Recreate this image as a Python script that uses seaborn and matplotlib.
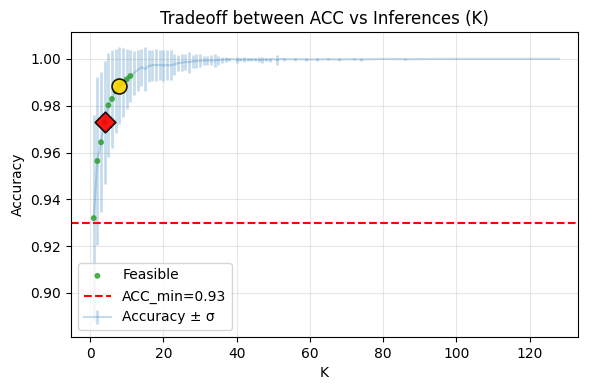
import matplotlib
matplotlib.use("Agg")
import matplotlib.pyplot as plt
import seaborn as sns
import pandas as pd

# K values (inferences)
k_values = list(range(1, 53)) + [53, 56, 59, 62, 65, 68, 72, 74, 80, 86, 96, 112, 128]

acc_mean = [
    0.9320, 0.9564, 0.9644, 0.9729, 0.9802, 0.9829, 0.9862, 0.9886, 0.9900, 0.9913,
    0.9927, 0.9940, 0.9952, 0.9964, 0.9957, 0.9970, 0.9973, 0.9974, 0.9974, 0.9972,
    0.9974, 0.9973, 0.9976, 0.9982, 0.9984, 0.9987, 0.9986, 0.9990, 0.9991, 0.9992,
    0.9993, 0.9993, 0.9994, 0.9993, 0.9995, 0.9996, 0.9997, 0.9998, 1.0000, 0.9996,
    0.9998, 0.9997, 0.9998, 0.9998, 0.9998, 0.9997, 0.9996, 0.9998, 0.9997, 1.0000,
    0.9995, 1.0000,
    0.9999, 0.9999, 0.9998, 0.9998, 0.9999, 0.9998, 0.9999, 0.9998, 1.0000, 0.9999,
    1.0000, 1.0000, 1.0000,
]

acc_std = [
    0.0440, 0.0360, 0.0300, 0.0263, 0.0222, 0.0210, 0.0180, 0.0165, 0.0148, 0.0128,
    0.0112, 0.0095, 0.0088, 0.0080, 0.0094, 0.0068, 0.0066, 0.0068, 0.0063, 0.0066,
    0.0064, 0.0063, 0.0046, 0.0034, 0.0037, 0.0033, 0.0045, 0.0027, 0.0031, 0.0027,
    0.0019, 0.0019, 0.0022, 0.0027, 0.0019, 0.0014, 0.0011, 0.0008, 0.0000, 0.0014,
    0.0006, 0.0011, 0.0008, 0.0007, 0.0008, 0.0011, 0.0014, 0.0007, 0.0009, 0.0000,
    0.0021, 0.0000,
    0.0006, 0.0006, 0.0008, 0.0008, 0.0004, 0.0008, 0.0003, 0.0008, 0.0000, 0.0003,
    0.0000, 0.0000, 0.0000,
]

feasible_k = [1, 2, 3, 4, 5, 6, 7, 8, 9, 10, 11]
acc_min = 0.93
best_k = 4       # red diamond
knee_k = 8       # gold circle

df = pd.DataFrame({"K": k_values, "acc": acc_mean, "std": acc_std})
feas = df[df["K"].isin(feasible_k)]
best = df[df["K"] == best_k]
knee = df[df["K"] == knee_k]

fig, ax = plt.subplots(figsize=(5.9, 3.9), dpi=100)
fig.subplots_adjust(left=71 / 590, right=578 / 590, top=1 - 32 / 390, bottom=1 - 337 / 390)

ax.errorbar(df["K"], df["acc"], yerr=df["std"], color="tab:blue", alpha=0.25,
            elinewidth=2, linewidth=1.5, label="Accuracy ± σ", zorder=2)

sns.scatterplot(data=feas, x="K", y="acc", ax=ax, color="#2ca02c", s=18,
                alpha=0.85, edgecolor="none", label="Feasible", zorder=3)

ax.axhline(acc_min, color="red", linestyle="--", linewidth=1.5,
           label=f"ACC_min={acc_min}", zorder=2)

sns.scatterplot(data=knee, x="K", y="acc", ax=ax, color="gold", s=115,
                marker="o", edgecolor="black", linewidth=1.2, alpha=0.9,
                zorder=4, legend=False)
sns.scatterplot(data=best, x="K", y="acc", ax=ax, color="red", s=110,
                marker="D", edgecolor="black", linewidth=1.2, alpha=0.9,
                zorder=5, legend=False)

ax.set_xlim(-5.2, 133.2)
ax.set_ylim(0.8812, 1.0115)
ax.set_title("Tradeoff between ACC vs Inferences (K)")
ax.set_xlabel("K")
ax.set_ylabel("Accuracy")
ax.grid(True, alpha=0.3)
ax.set_axisbelow(True)

handles, labels = ax.get_legend_handles_labels()
order = ["Feasible", f"ACC_min={acc_min}", "Accuracy ± σ"]
hl = {l: h for h, l in zip(handles, labels)}
ax.legend([hl[o] for o in order if o in hl], [o for o in order if o in hl],
          loc="lower left")

fig.savefig("out.png", dpi=100)
